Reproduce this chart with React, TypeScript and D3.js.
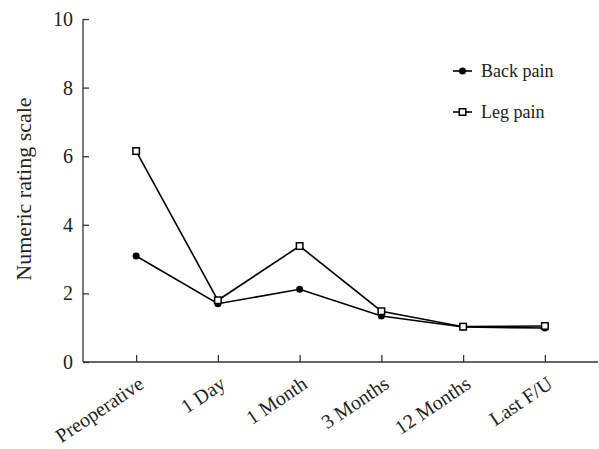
import { useEffect, useRef } from "react";
import * as d3 from "d3";

const categories = ["Preoperative", "1 Day", "1 Month", "3 Months", "12 Months", "Last F/U"];
const backPain = [3.09, 1.7, 2.12, 1.34, 1.02, 0.99];
const legPain = [6.15, 1.8, 3.38, 1.48, 1.03, 1.05];
const yTicks = [0, 2, 4, 6, 8, 10];
const seriesNames = ["Back pain", "Leg pain"];

const W = 599;
const H = 449;
const FONT = "'Liberation Serif', 'DejaVu Serif', serif";

const App = () => {
    const ref = useRef<SVGSVGElement>(null);

    useEffect(() => {
        if (!ref.current) return;
        const svg = d3.select(ref.current);
        svg.selectAll("*").remove();

        const margin = { top: 19, right: 1, bottom: 87, left: 83 };
        const width = W - margin.left - margin.right;
        const height = H - margin.top - margin.bottom;

        const x = d3.scalePoint<string>()
            .domain(categories)
            .range([0, width])
            .padding(0.65);

        const y = d3.scaleLinear()
            .domain([0, 10])
            .range([height, 0]);

        const g = svg.append("g")
            .attr("transform", `translate(${margin.left},${margin.top})`);

        // y axis, ticks point inwards
        const yAxis = g.append("g")
            .call(d3.axisRight(y).tickValues(yTicks).tickSize(6).tickFormat(d3.format("d")));
        yAxis.select(".domain").attr("stroke", "#333").attr("stroke-width", 1.3).attr("d", `M0,0V${height}`);
        yAxis.selectAll(".tick line").attr("stroke", "#333").attr("stroke-width", 1.3);
        yAxis.selectAll(".tick text")
            .attr("x", -10)
            .attr("text-anchor", "end")
            .attr("fill", "#222")
            .style("font-family", FONT)
            .style("font-size", "20px");

        // x axis, ticks point up
        const xAxis = g.append("g")
            .attr("transform", `translate(0,${height})`)
            .call(d3.axisTop(x).tickSize(7).tickFormat(() => ""));
        xAxis.select(".domain").attr("stroke", "#333").attr("stroke-width", 1.3).attr("d", `M0,0H${width}`);
        xAxis.selectAll(".tick line").attr("stroke", "#333").attr("stroke-width", 1.3);

        g.append("g")
            .selectAll("text")
            .data(categories)
            .enter().append("text")
            .attr("transform", d => `translate(${(x(d) as number) + 9},${height + 25}) rotate(-34)`)
            .attr("text-anchor", "end")
            .attr("fill", "#222")
            .style("font-family", FONT)
            .style("font-size", "20px")
            .text(d => d);

        // y label
        svg.append("text")
            .attr("transform", `translate(31,189) rotate(-90)`)
            .attr("text-anchor", "middle")
            .attr("fill", "#222")
            .style("font-family", FONT)
            .style("font-size", "22px")
            .text("Numeric rating scale");

        const line = d3.line<number>()
            .x((_, i) => x(categories[i]) as number)
            .y(d => y(d));

        [backPain, legPain].forEach(series => {
            g.append("path")
                .datum(series)
                .attr("fill", "none")
                .attr("stroke", "#000")
                .attr("stroke-width", 1.6)
                .attr("d", line);
        });

        g.selectAll(".back")
            .data(backPain)
            .enter().append("circle")
            .attr("cx", (_, i) => x(categories[i]) as number)
            .attr("cy", d => y(d))
            .attr("r", 3.5)
            .attr("fill", "#000");

        const s = 6.5;
        g.selectAll(".leg")
            .data(legPain)
            .enter().append("rect")
            .attr("x", (_, i) => (x(categories[i]) as number) - s / 2)
            .attr("y", d => y(d) - s / 2)
            .attr("width", s)
            .attr("height", s)
            .attr("fill", "#fff")
            .attr("stroke", "#000")
            .attr("stroke-width", 1.5);

        // legend
        seriesNames.forEach((name, i) => {
            const lg = svg.append("g").attr("transform", `translate(453,${71 + i * 41})`);
            lg.append("line").attr("x1", 0).attr("x2", 19).attr("y1", 0).attr("y2", 0)
                .attr("stroke", "#000").attr("stroke-width", 1.6);
            if (i === 0) {
                lg.append("circle").attr("cx", 9.5).attr("cy", 0).attr("r", 3.5).attr("fill", "#000");
            } else {
                lg.append("rect").attr("x", 9.5 - s / 2).attr("y", -s / 2).attr("width", s).attr("height", s)
                    .attr("fill", "#fff").attr("stroke", "#000").attr("stroke-width", 1.5);
            }
            lg.append("text").attr("x", 28).attr("y", 6)
                .attr("fill", "#222").style("font-family", FONT).style("font-size", "18px")
                .text(name);
        });
    }, []);

    return (
        <svg
            width={W}
            height={H}
            ref={ref}
            style={{ position: "absolute", left: 0, top: 0, background: "#fff" }}/>
    );
};

export default App;
